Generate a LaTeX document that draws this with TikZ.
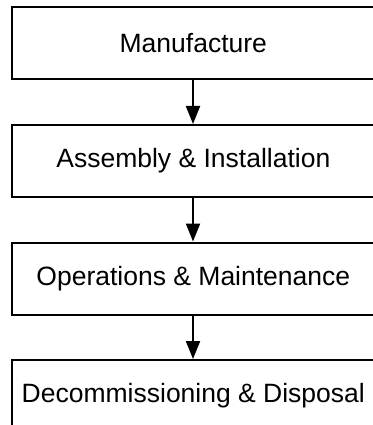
\documentclass[tikz,border=0pt]{standalone}
\usepackage{fontspec}
\setmainfont{Liberation Sans}
\usetikzlibrary{arrows.meta, positioning}

\begin{document}
\begin{tikzpicture}[%
    x=1pt, y=1pt,
    >={Triangle[length=18pt, width=14pt]}, % filled heads
    node distance=43.5pt,                  % gap between the stages
    ]

\tikzset{
  base/.style={align=center, minimum height=72pt, minimum width=370pt, inner sep=0pt,
               font=\fontsize{26.5}{30}\selectfont},
  proc/.style={base, draw, line width=2pt},
  flow/.style={->, line width=2pt}
  };

\useasboundingbox (0,0) rectangle (372,-425);

% LIFE CYCLE
\node[proc] (manufacture) at (197,-43.5) { Manufacture };
\node[proc, below=of manufacture] (assembly) { Assembly \& Installation };
\node[proc, below=of assembly] (operations) { Operations \& Maintenance };
\node[proc, below=of operations] (decommissioning) { Decommissioning \& Disposal };

% arrows sit a little left of the text centre
\draw[flow] ([xshift=-4pt]manufacture.south) -- ([xshift=-4pt]assembly.north);
\draw[flow] ([xshift=-4pt]assembly.south)    -- ([xshift=-4pt]operations.north);
\draw[flow] ([xshift=-4pt]operations.south)  -- ([xshift=-4pt]decommissioning.north);

\end{tikzpicture}
\end{document}
